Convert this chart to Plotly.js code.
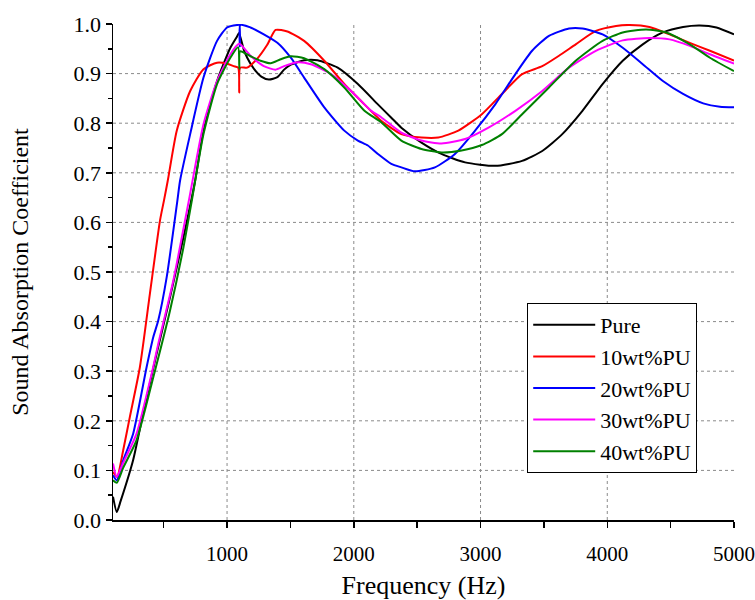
<!DOCTYPE html>
<html>
<head>
<meta charset="utf-8">
<script src="https://cdn.plot.ly/plotly-3.0.1.min.js"></script>
<style>html,body{margin:0;padding:0;background:#fff;}#chart{width:755px;height:600px;}</style>
</head>
<body>
<div id="chart"></div>
<script>
const seriesNames = ["Pure", "10wt%PU", "20wt%PU", "30wt%PU", "40wt%PU"];
const seriesColors = ["#000000", "#ff0000", "#0000ff", "#ff00ff", "#008000"];

const freqPure = [100, 130, 160, 259, 338, 444, 550, 656, 748, 814, 921, 1026, 1079, 1094, 1130, 1159, 1211, 1270, 1330, 1397, 1450, 1503, 1608, 1714, 1873, 2032, 2190, 2296, 2375, 2534, 2692, 2878, 3116, 3328, 3487, 3645, 3804, 3963, 4122, 4280, 4439, 4598, 4730, 4862, 5000];
const absPure = [0.047, 0.016, 0.038, 0.121, 0.215, 0.335, 0.449, 0.570, 0.684, 0.785, 0.885, 0.952, 0.975, 0.982, 0.950, 0.932, 0.910, 0.894, 0.888, 0.893, 0.908, 0.918, 0.927, 0.927, 0.912, 0.879, 0.838, 0.811, 0.791, 0.761, 0.738, 0.721, 0.714, 0.724, 0.744, 0.778, 0.825, 0.879, 0.926, 0.959, 0.983, 0.994, 0.997, 0.993, 0.979];

const freqPU10 = [100, 132, 180, 233, 312, 391, 471, 502, 532, 603, 709, 814, 921, 1000, 1052, 1088, 1096, 1104, 1159, 1238, 1317, 1383, 1476, 1608, 1767, 1925, 2084, 2216, 2375, 2534, 2667, 2825, 3010, 3169, 3328, 3487, 3619, 3751, 3910, 4069, 4175, 4333, 4492, 4651, 4810, 5000];
const absPU10 = [0.097, 0.087, 0.140, 0.208, 0.308, 0.456, 0.604, 0.644, 0.684, 0.785, 0.865, 0.909, 0.922, 0.920, 0.915, 0.912, 0.862, 0.912, 0.912, 0.930, 0.958, 0.988, 0.985, 0.966, 0.926, 0.879, 0.838, 0.805, 0.778, 0.771, 0.771, 0.785, 0.818, 0.859, 0.899, 0.915, 0.936, 0.959, 0.986, 0.996, 0.998, 0.994, 0.979, 0.962, 0.946, 0.926];

const freqPU20 = [100, 130, 180, 259, 365, 418, 457, 524, 608, 629, 709, 814, 921, 1000, 1079, 1097, 1101, 1105, 1185, 1290, 1397, 1503, 1608, 1767, 1925, 2032, 2111, 2190, 2296, 2375, 2481, 2640, 2798, 2957, 3116, 3275, 3407, 3540, 3698, 3804, 3963, 4122, 4280, 4439, 4598, 4757, 4889, 5000];
const absPU20 = [0.090, 0.080, 0.120, 0.174, 0.308, 0.369, 0.402, 0.490, 0.644, 0.684, 0.778, 0.892, 0.966, 0.993, 0.998, 0.998, 0.955, 0.998, 0.993, 0.979, 0.962, 0.932, 0.892, 0.832, 0.785, 0.765, 0.755, 0.738, 0.718, 0.711, 0.703, 0.711, 0.738, 0.785, 0.838, 0.899, 0.946, 0.976, 0.991, 0.991, 0.979, 0.952, 0.919, 0.885, 0.859, 0.840, 0.833, 0.832];

const freqPU30 = [100, 130, 180, 286, 405, 457, 576, 700, 814, 921, 1026, 1095, 1185, 1290, 1383, 1450, 1556, 1661, 1820, 1979, 2137, 2216, 2375, 2534, 2692, 2878, 3063, 3275, 3487, 3698, 3910, 4122, 4333, 4492, 4651, 4810, 5000];
const absPU30 = [0.114, 0.087, 0.115, 0.174, 0.295, 0.355, 0.483, 0.646, 0.798, 0.885, 0.939, 0.960, 0.936, 0.915, 0.908, 0.915, 0.923, 0.919, 0.899, 0.865, 0.825, 0.812, 0.781, 0.765, 0.759, 0.768, 0.791, 0.825, 0.865, 0.912, 0.946, 0.967, 0.972, 0.969, 0.956, 0.939, 0.920];

const freqPU40 = [100, 130, 180, 286, 418, 550, 656, 722, 814, 921, 1026, 1087, 1097, 1103, 1185, 1264, 1344, 1423, 1503, 1608, 1767, 1925, 2084, 2216, 2375, 2534, 2692, 2851, 3010, 3169, 3328, 3540, 3751, 3963, 4122, 4306, 4465, 4651, 4810, 5000];
const absPU40 = [0.080, 0.075, 0.105, 0.161, 0.288, 0.4225, 0.550, 0.644, 0.778, 0.879, 0.932, 0.953, 0.910, 0.945, 0.935, 0.926, 0.921, 0.929, 0.935, 0.931, 0.909, 0.872, 0.825, 0.802, 0.765, 0.748, 0.741, 0.745, 0.756, 0.778, 0.818, 0.872, 0.926, 0.966, 0.983, 0.989, 0.983, 0.959, 0.932, 0.905];

const xTickVals = [1000, 2000, 3000, 4000, 5000];
const xMinorVals = [500, 1500, 2500, 3500, 4500];
const yTickVals = [0, 0.1, 0.2, 0.3, 0.4, 0.5, 0.6, 0.7, 0.8, 0.9, 1.0];
const xGridVals = [1000, 2000, 3000, 4000];
const yGridVals = [0.1, 0.2, 0.3, 0.4, 0.5, 0.6, 0.7, 0.8, 0.9];

const xs = [freqPure, freqPU10, freqPU20, freqPU30, freqPU40];
const ys = [absPure, absPU10, absPU20, absPU30, absPU40];

const traces = seriesNames.map((n, i) => ({
  type: 'scatter', mode: 'lines', name: n,
  x: xs[i], y: ys[i],
  line: {color: seriesColors[i], width: 2, shape: 'spline', smoothing: 0.6}
}));

const gridStyle = {color: '#8a8a8a', width: 1, dash: '3px,3px'};
const shapes = [
  ...xGridVals.map(v => ({type: 'line', xref: 'x', yref: 'paper', x0: v, x1: v, y0: 0, y1: 1, line: gridStyle, layer: 'below'})),
  ...yGridVals.map(v => ({type: 'line', xref: 'paper', yref: 'y', x0: 0, x1: 1, y0: v, y1: v, line: gridStyle, layer: 'below'}))
];

const font = "Liberation Serif";
const layout = {
  width: 755, height: 600,
  margin: {l: 113, r: 21, t: 24, b: 80},
  paper_bgcolor: '#ffffff', plot_bgcolor: '#ffffff',
  font: {family: font, color: '#000', size: 20},
  showlegend: true,
  shapes: shapes,
  legend: {
    x: 0.667, y: 0.4375, xanchor: 'left', yanchor: 'top',
    bgcolor: '#fff', bordercolor: '#000', borderwidth: 1,
    font: {family: font, size: 22, color: '#000'},
    itemwidth: 62, tracegroupgap: 0
  },
  xaxis: {
    range: [100, 5000], tickvals: xTickVals, ticktext: xTickVals.map(String),
    showline: true, linecolor: '#000', linewidth: 1.5,
    ticks: 'outside', ticklen: 6, tickwidth: 1.5, tickcolor: '#000',
    minor: {tickvals: xMinorVals, ticks: 'outside', ticklen: 6, tickwidth: 1.5, tickcolor: '#000', showgrid: false},
    showgrid: false, zeroline: false,
    tickfont: {family: font, size: 21},
    ticklabeloverflow: 'allow',
    ticklabelstandoff: 8,
    title: {text: 'Frequency (Hz)', font: {family: font, size: 26}, standoff: 15}
  },
  yaxis: {
    range: [0, 1.0], tickvals: yTickVals, ticktext: yTickVals.map(v => v.toFixed(1)),
    showline: true, linecolor: '#000', linewidth: 1.5,
    ticks: 'outside', ticklen: 6, tickwidth: 1.5, tickcolor: '#000',
    minor: {dtick: 0.05, tick0: 0.05, ticks: 'outside', ticklen: 4, tickwidth: 1.5, tickcolor: '#000', showgrid: false},
    showgrid: false, zeroline: false,
    tickfont: {family: font, size: 22},
    title: {text: 'Sound Absorption Coefficient', font: {family: font, size: 24}, standoff: 38}
  }
};

Plotly.newPlot('chart', traces, layout, {displayModeBar: false, staticPlot: true});
</script>
</body>
</html>
